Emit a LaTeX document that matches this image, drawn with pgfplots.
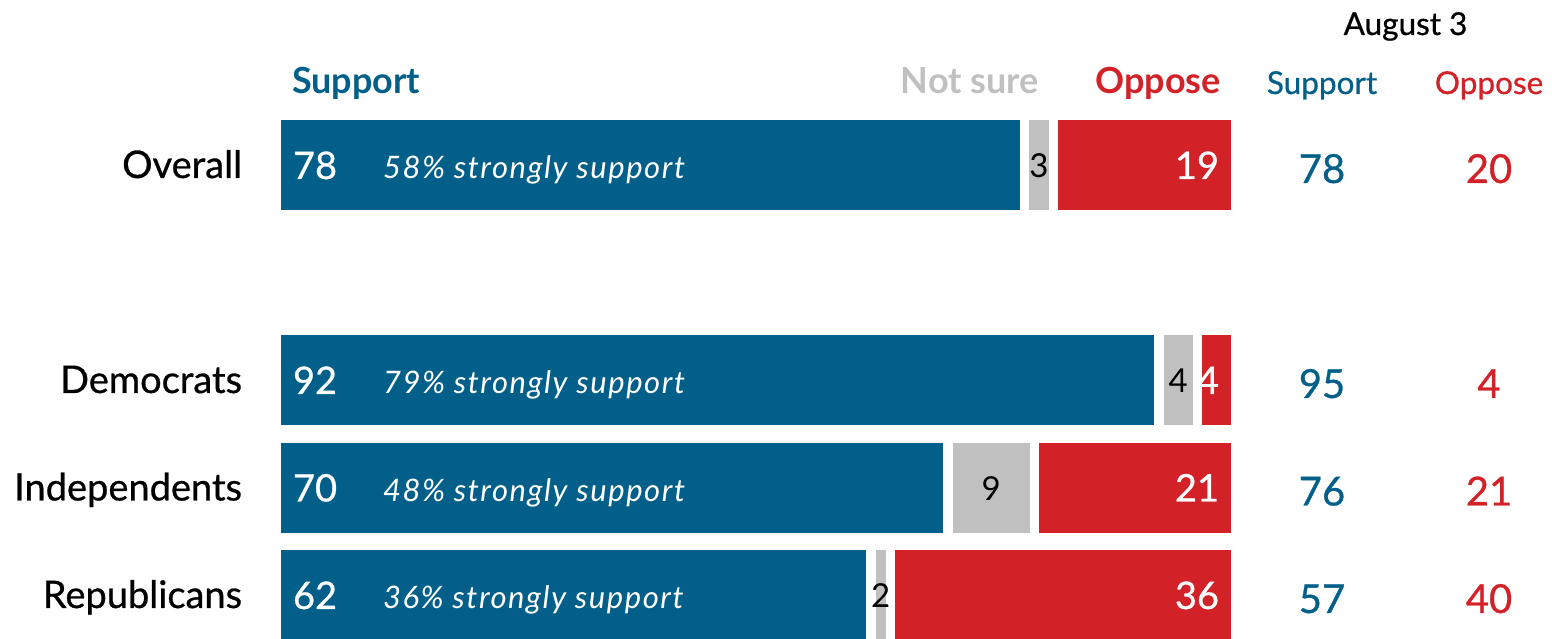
\documentclass[border=0pt]{standalone}
\usepackage{pgfplots}
\pgfplotsset{compat=1.18}
\usepackage{pgfplotstable}
\usepackage{fontspec}
\setmainfont{Lato}
\newfontfamily\med{Lato}[FakeBold=0.7]
\newfontfamily\wideit{Lato Italic}[LetterSpace=5]
\definecolor{sblue}{HTML}{015F89}
\definecolor{ored}{HTML}{D32128}
\definecolor{ngrey}{HTML}{C0C0C0}
\newcommand\fs[1]{\fontsize{#1}{#1}\selectfont}

\pgfplotstableread{
y support notsure oppose
0 78 3 19
2 92 4 4
3 70 9 21
4 62 2 36
}\data

\begin{document}
\begin{tikzpicture}[every node/.style={inner sep=0pt, outer sep=0pt}]
\useasboundingbox (0,0) rectangle (1552pt,639pt);
\begin{axis}[
  at={(276.25pt,-9.75pt)}, anchor=south west,
  scale only axis, width=959.5pt, height=537.5pt,
  xmin=0, xmax=100, ymin=-0.5, ymax=4.5, y dir=reverse,
  hide axis, clip=false,
  xbar stacked, bar width=99.5pt,
]
\addplot[fill=sblue, draw=white, line width=9.5pt] table[x=support,y=y]{\data};
\addplot[fill=ngrey, draw=white, line width=9.5pt] table[x=notsure,y=y]{\data};
\addplot[fill=ored, draw=white, line width=9.5pt] table[x=oppose,y=y]{\data};
\coordinate (L0) at (axis cs:0,0);
\coordinate (L2) at (axis cs:0,2);
\coordinate (L3) at (axis cs:0,3);
\coordinate (L4) at (axis cs:0,4);
\coordinate (R0) at (axis cs:100,0);
\coordinate (R2) at (axis cs:100,2);
\coordinate (R3) at (axis cs:100,3);
\coordinate (R4) at (axis cs:100,4);
\coordinate (G0) at (axis cs:79.5,0);
\coordinate (G2) at (axis cs:94,2);
\coordinate (G3) at (axis cs:74.5,3);
\coordinate (G4) at (axis cs:63,4);
\end{axis}

% row labels
\foreach \yy/\lab in {0/Overall,2/Democrats,3/Independents,4/Republicans}{
  \node[anchor=base east, xshift=-34.25pt, yshift=-13pt, font=\med\fs{38}] at (L\yy) {\lab};
}
% support values and strongly support
\foreach \yy/\v/\s in {0/78/58,2/92/79,3/70/48,4/62/36}{
  \node[anchor=base west, xshift=16.75pt, yshift=-14pt, text=white, font=\med\fs{38}] at (L\yy) {\v};
  \node[anchor=base west, xshift=106.75pt, yshift=-14pt, text=white, font=\wideit\fs{31}] at (L\yy) {\s\% strongly support};
}
% not sure values
\foreach \yy/\v in {0/3,2/4,3/9,4/2}{
  \node[anchor=base, yshift=-13pt, text=black, font=\fs{33}] at (G\yy) {\v};
}
% oppose values
\foreach \yy/\v in {0/19,2/4,3/21,4/36}{
  \node[anchor=base east, xshift=-16.75pt, yshift=-14pt, text=white, font=\med\fs{38}] at (R\yy) {\v};
}
% August 3 columns
\foreach \yy/\s/\o in {0/78/20,2/95/4,3/76/21,4/57/40}{
  \node[anchor=base, xshift=86.25pt, yshift=-18pt, text=sblue, font=\med\fs{40}] at (R\yy) {\s};
  \node[anchor=base, xshift=253.25pt, yshift=-18pt, text=ored, font=\med\fs{40}] at (R\yy) {\o};
}
% headers
\node[anchor=base west, xshift=15.75pt, yshift=71pt, text=sblue, font=\fs{36}\bfseries] at (L0) {Support};
\node[anchor=base east, xshift=-197pt, yshift=71pt, text=ngrey, font=\fs{36}\bfseries] at (R0) {Not sure};
\node[anchor=base east, xshift=-15pt, yshift=71pt, text=ored, font=\fs{36}\bfseries] at (R0) {Oppose};
\node[anchor=base, xshift=86.25pt, yshift=71pt, text=sblue, font=\med\fs{31.5}] at (R0) {Support};
\node[anchor=base, xshift=253.25pt, yshift=71pt, text=ored, font=\med\fs{31.5}] at (R0) {Oppose};
\node[anchor=base, xshift=169.75pt, yshift=130pt, text=black, font=\med\fs{31.5}] at (R0) {August 3};
\end{tikzpicture}
\end{document}
